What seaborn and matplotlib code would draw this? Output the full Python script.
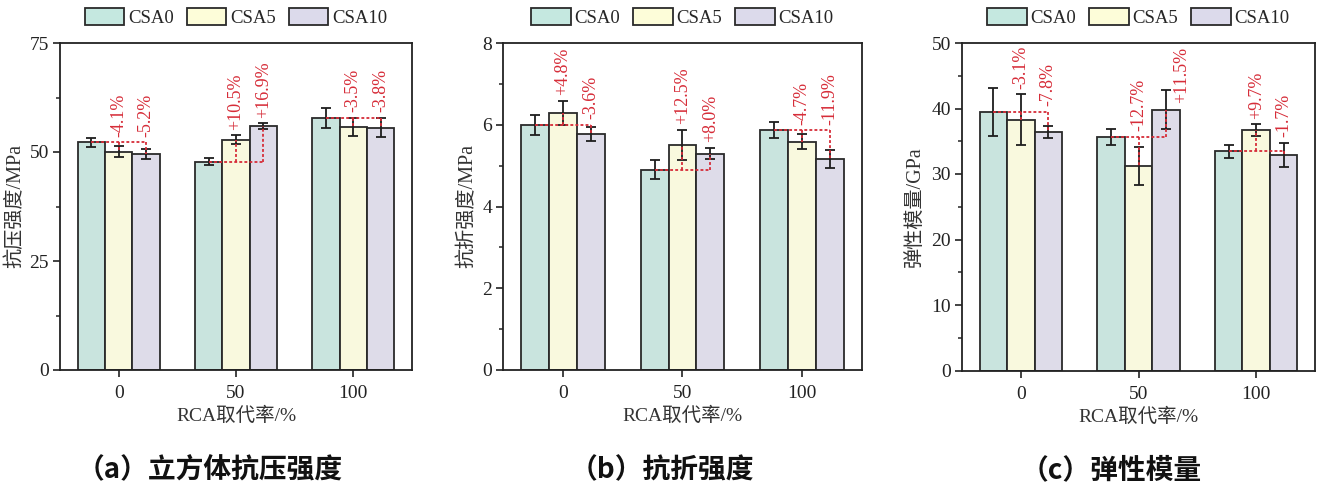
import numpy as np
import pandas as pd
import matplotlib
matplotlib.use("Agg")
import matplotlib.pyplot as plt
import seaborn as sns
from matplotlib.ticker import MultipleLocator
from matplotlib.patches import Patch

# ---------------- data ----------------
rca_levels = ["0", "50", "100"]          # RCA replacement ratio, %
mixes = ["CSA0", "CSA5", "CSA10"]

# (a) cube compressive strength, MPa
comp_csa0 = [52.2, 47.8, 57.8]
comp_csa5 = [50.1, 52.8, 55.8]
comp_csa10 = [49.5, 55.9, 55.6]
comp_err_csa0 = [1.1, 0.85, 2.3]
comp_err_csa5 = [1.3, 1.0, 2.1]
comp_err_csa10 = [1.15, 0.7, 2.2]
comp_pct_csa5 = ["-4.1%", "+10.5%", "-3.5%"]
comp_pct_csa10 = ["-5.2%", "+16.9%", "-3.8%"]

# (b) flexural strength, MPa
flex_csa0 = [6.0, 4.9, 5.87]
flex_csa5 = [6.29, 5.51, 5.59]
flex_csa10 = [5.78, 5.29, 5.17]
flex_err_csa0 = [0.25, 0.23, 0.2]
flex_err_csa5 = [0.3, 0.37, 0.19]
flex_err_csa10 = [0.17, 0.14, 0.22]
flex_pct_csa5 = ["+4.8%", "+12.5%", "-4.7%"]
flex_pct_csa10 = ["-3.6%", "+8.0%", "-11.9%"]

# (c) elastic modulus, GPa
mod_csa0 = [39.5, 35.7, 33.5]
mod_csa5 = [38.3, 31.2, 36.7]
mod_csa10 = [36.4, 39.8, 32.9]
mod_err_csa0 = [3.65, 1.2, 1.0]
mod_err_csa5 = [3.9, 2.9, 0.87]
mod_err_csa10 = [0.9, 3.0, 1.9]
mod_pct_csa5 = ["-3.1%", "-12.7%", "+9.7%"]
mod_pct_csa10 = ["-7.8%", "+11.5%", "-1.7%"]

# ---------------- style ----------------
sns.set_style("ticks")
plt.rcParams["font.family"] = ["Liberation Serif", "Noto Sans CJK SC"]
plt.rcParams["axes.unicode_minus"] = False
plt.rcParams["axes.linewidth"] = 1.3
plt.rcParams["axes.edgecolor"] = "#222222"

palette = {"CSA0": "#c5e8e0", "CSA5": "#fdfdd9", "CSA10": "#dcdaeb"}
edge = "#2a2a2a"
red = "#d62c38"
text_col = "#333333"

fig = plt.figure(figsize=(13.22, 4.88), dpi=100)
W, H = 1322, 488


def px_axes(left, right, top, bottom):
    return [left / W, 1 - bottom / H, (right - left) / W, (bottom - top) / H]


panels = [
    dict(rect=px_axes(60, 412, 43, 370), ymax=75, major=25, minor=12.5,
         ylabel="抗压强度/MPa", ylab_x=-0.099, title="（a）立方体抗压强度", title_x=210,
         vals=(comp_csa0, comp_csa5, comp_csa10),
         errs=(comp_err_csa0, comp_err_csa5, comp_err_csa10),
         pcts=(comp_pct_csa5, comp_pct_csa10)),
    dict(rect=px_axes(503, 862, 43, 370), ymax=8, major=2, minor=1,
         ylabel="抗折强度/MPa", ylab_x=-0.070, title="（b）抗折强度", title_x=662,
         vals=(flex_csa0, flex_csa5, flex_csa10),
         errs=(flex_err_csa0, flex_err_csa5, flex_err_csa10),
         pcts=(flex_pct_csa5, flex_pct_csa10)),
    dict(rect=px_axes(962, 1315, 43, 370.5), ymax=50, major=10, minor=5,
         ylabel="弹性模量/GPa", ylab_x=-0.105, title="（c）弹性模量", title_x=1111,
         vals=(mod_csa0, mod_csa5, mod_csa10),
         errs=(mod_err_csa0, mod_err_csa5, mod_err_csa10),
         pcts=(mod_pct_csa5, mod_pct_csa10)),
]

for p in panels:
    ax = fig.add_axes(p["rect"])
    df = pd.DataFrame({
        "rca": np.tile(rca_levels, len(mixes)),
        "mix": np.repeat(mixes, len(rca_levels)),
        "value": np.concatenate(p["vals"]),
    })
    sns.barplot(data=df, x="rca", y="value", hue="mix", order=rca_levels,
                hue_order=mixes, palette=palette, errorbar=None, width=0.7,
                gap=0, edgecolor=edge, linewidth=1.3, legend=False, ax=ax,
                zorder=2)

    # bar centres and heights straight from the drawn containers
    centers = [[b.get_x() + b.get_width() / 2 for b in c] for c in ax.containers]
    heights = [[b.get_height() for b in c] for c in ax.containers]

    for k in range(len(mixes)):
        ax.errorbar(centers[k], heights[k], yerr=p["errs"][k], fmt="none",
                    ecolor="#1e1e1e", elinewidth=1.3, capsize=3.5,
                    capthick=1.3, zorder=3)

    ax.set_ylim(0, p["ymax"])
    ax.set_xlim(-0.5, 2.5)
    ax.yaxis.set_major_locator(MultipleLocator(p["major"]))
    ax.yaxis.set_minor_locator(MultipleLocator(p["minor"]))
    ax.tick_params(axis="both", which="major", direction="out", length=5,
                   width=1.2, labelsize=14, colors="#222222", pad=3)
    ax.tick_params(axis="y", which="minor", direction="out", length=3, width=1.1)
    ax.tick_params(axis="x", which="major", pad=6)
    for s in ax.spines.values():
        s.set_visible(True)
        s.set_linewidth(1.3)

    ax.set_xlabel("RCA取代率/%", fontsize=14, color=text_col)
    ax.xaxis.set_label_coords(0.5, -0.112)
    ax.set_ylabel(p["ylabel"], fontsize=14.5, color=text_col)
    ax.yaxis.set_label_coords(p["ylab_x"], 0.5)

    # red reference lines and relative change labels
    fig.canvas.draw()
    renderer = fig.canvas.get_renderer()
    ax_top = ax.get_window_extent(renderer).y1
    for g in range(len(rca_levels)):
        ref = heights[0][g]
        x0 = centers[0][g]
        ax.plot([x0, centers[2][g]], [ref, ref], color=red, lw=1.3,
                ls=(0, (1.6, 1.2)), zorder=4)
        for k in (1, 2):
            xk = centers[k][g]
            hk = heights[k][g]
            ax.plot([xk, xk], [ref, hk], color=red, lw=1.3,
                    ls=(0, (1.6, 1.2)), zorder=4)
            base = max(ref, hk + p["errs"][k][g])
            ann = ax.annotate(p["pcts"][k - 1][g], xy=(xk, base), xytext=(0, 4),
                              textcoords="offset points", rotation=90,
                              ha="center", va="bottom", fontsize=13,
                              color=red, zorder=5)
            bb = ann.get_window_extent(renderer)
            if bb.y1 > ax_top + 6:
                # not enough head-room: set the label beside the whisker
                ann.xy = (xk, hk)
                ann.set_position((11.5, 5))

    handles = [Patch(facecolor=palette[m], edgecolor=edge, linewidth=1.3)
               for m in mixes]
    ax.legend(handles, mixes, loc="center", bbox_to_anchor=(0.5, 1.077),
              ncol=3, frameon=False, fontsize=13.5, handlelength=2.1,
              handleheight=1.0, handletextpad=0.2, columnspacing=0.7,
              borderaxespad=0)

    fig.text(p["title_x"] / W, 1 - 470 / H, p["title"], ha="center",
             va="center", fontsize=20, fontweight="bold",
             family=["Noto Sans CJK SC"], color="#111111")

fig.savefig("out.png", dpi=100)
